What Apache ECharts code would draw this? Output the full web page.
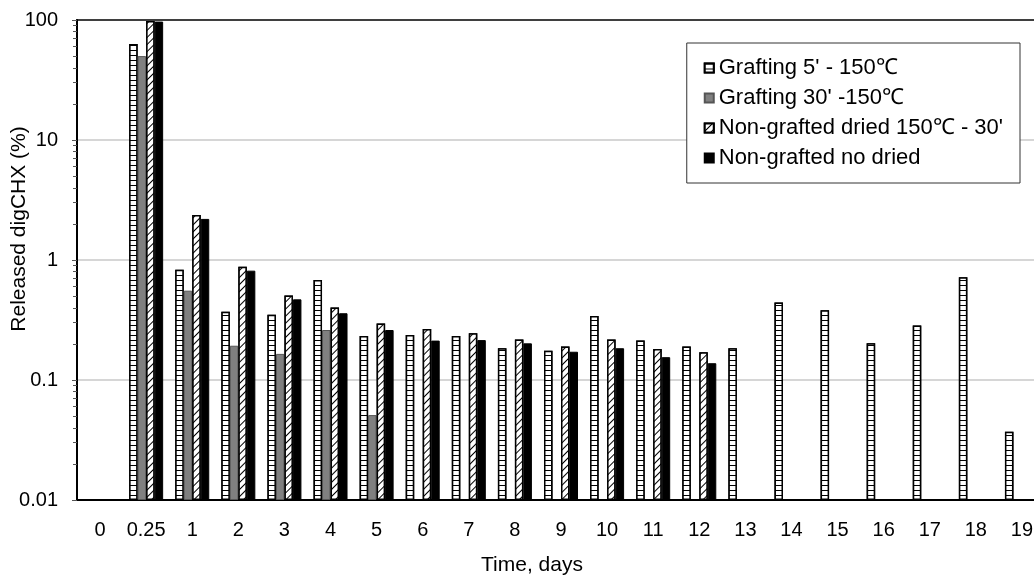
<!DOCTYPE html>
<html>
<head>
<meta charset="utf-8">
<script src="https://cdn.jsdelivr.net/npm/echarts@6/dist/echarts.min.js"></script>
<style>
html,body{margin:0;padding:0;background:#fff;}
#chart{width:1034px;height:575px;}
</style>
</head>
<body>
<div id="chart"></div>
<script>
const categories = ['0','0.25','1','2','3','4','5','6','7','8','9','10','11','12','13','14','15','16','17','18','19'];
const seriesNames = ["Grafting 5' - 150\u2103", "Grafting 30' -150\u2103", "Non-grafted dried 150\u2103 - 30'", "Non-grafted no dried"];
const grafting5 = [null, 63, 0.83, 0.37, 0.35, 0.68, 0.233, 0.237, 0.233, 0.184, 0.175, 0.341, 0.213, 0.190, 0.184, 0.443, 0.381, 0.202, 0.284, 0.718, 0.037];
const grafting30 = [null, 50, 0.555, 0.193, 0.165, 0.261, 0.051, null, null, null, null, null, null, null, null, null, null, null, null, null, null];
const nonGraftedDried = [null, 98, 2.37, 0.879, 0.505, 0.401, 0.296, 0.266, 0.245, 0.218, 0.190, 0.218, 0.181, 0.170, null, null, null, null, null, null, null];
const nonGraftedNoDried = [null, 97, 2.2, 0.815, 0.47, 0.36, 0.261, 0.213, 0.215, 0.202, 0.172, 0.184, 0.155, 0.138, null, null, null, null, null, null, null];
const yTickLabels = ['0.01', '0.1', '1', '10', '100'];
const minorTickValues = [];
[0.01, 0.1, 1, 10].forEach(function (d) {
  for (let k = 2; k < 10; k++) minorTickValues.push(Number((d * k).toPrecision(2)));
});

const FONT = 'Liberation Sans, Arial, sans-serif';
const chart = echarts.init(document.getElementById('chart'), null, {renderer: 'canvas'});

const hLines = {symbol: 'rect', symbolSize: 1, dashArrayX: [[8, 0]], dashArrayY: [1, 4], color: '#000', backgroundColor: '#fff', rotation: 0};
const diagLines = {symbol: 'rect', symbolSize: 1, dashArrayX: [[8, 0]], dashArrayY: [1, 4], color: '#000', backgroundColor: '#fff', rotation: -Math.PI / 4};

function bar(name, data, itemStyle) {
  return {
    name: name, type: 'bar', data: data, barWidth: 8.5, barGap: '0%', yAxisIndex: 0,
    itemStyle: itemStyle, emphasis: {disabled: true}, animation: false
  };
}

chart.setOption({
  animation: false,
  backgroundColor: '#fff',
  textStyle: {fontFamily: FONT, color: '#000'},
  grid: {left: 77, right: -11, top: 20, bottom: 75, outerBoundsMode: 'none', containLabel: false,
    show: true, borderColor: '#000', borderWidth: 1.5, backgroundColor: 'transparent'},
  legend: {
    orient: 'vertical', right: 14, top: 43, icon: 'rect', itemWidth: 9, itemHeight: 9, itemGap: 8,
    backgroundColor: '#fff', borderColor: '#333', borderWidth: 1, padding: [14, 17, 14, 17], selectedMode: false,
    textStyle: {fontSize: 22, fontFamily: FONT, color: '#000'},
    data: seriesNames
  },
  xAxis: {
    type: 'category', data: categories, boundaryGap: true,
    name: 'Time, days', nameLocation: 'middle', nameGap: 55, nameMoveOverlap: false,
    nameTextStyle: {fontSize: 21, fontFamily: FONT, color: '#000', padding: [0, 58, 0, 0]},
    axisLine: {lineStyle: {color: '#000', width: 2}},
    axisTick: {alignWithLabel: true, length: 5, lineStyle: {color: '#888'}},
    axisLabel: {fontSize: 20, fontFamily: FONT, color: '#000', margin: 20, interval: 0},
    splitLine: {show: false}
  },
  yAxis: [{
    type: 'log', logBase: 10, min: 0.01, max: 100, startValue: 0.01,
    name: 'Released digCHX (%)', nameLocation: 'middle', nameGap: 47, nameMoveOverlap: false,
    nameTextStyle: {fontSize: 21, fontFamily: FONT, color: '#000', padding: [0, 0, 0, 62]},
    axisLine: {show: true, lineStyle: {color: '#000', width: 2}},
    axisTick: {show: true, length: 5, lineStyle: {color: '#555'}},
    axisLabel: {fontSize: 20, fontFamily: FONT, color: '#000', margin: 19,
      formatter: function (v) {
        const e = Math.round(Math.log10(v)) + 2;
        return yTickLabels[e] !== undefined ? yTickLabels[e] : String(v);
      }},
    splitLine: {show: true, showMinLine: false, showMaxLine: false, lineStyle: {color: '#c8c8c8', width: 1.5}}
  }, {
    type: 'log', logBase: 10, min: 0.01, max: 100, position: 'left', offset: 0,
    axisLine: {show: false},
    axisTick: {show: true, length: 4, customValues: minorTickValues, lineStyle: {color: '#555'}},
    axisLabel: {show: false},
    splitLine: {show: false}
  }],
  series: [
    bar(seriesNames[0], grafting5, {color: '#fff', borderColor: '#000', borderWidth: 1.5, decal: hLines}),
    bar(seriesNames[1], grafting30, {color: '#808080', borderColor: '#555', borderWidth: 1}),
    bar(seriesNames[2], nonGraftedDried, {color: '#fff', borderColor: '#000', borderWidth: 1.5, decal: diagLines}),
    bar(seriesNames[3], nonGraftedNoDried, {color: '#000', borderColor: '#000', borderWidth: 1})
  ]
});
</script>
</body>
</html>
